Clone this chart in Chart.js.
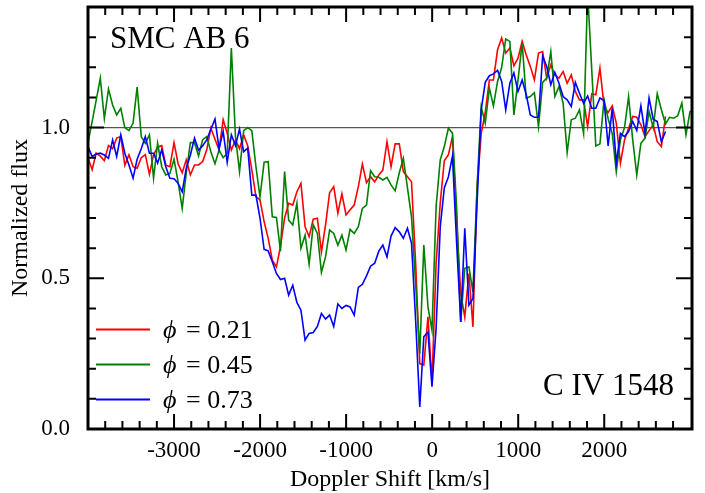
<!DOCTYPE html>
<html>
<head>
<meta charset="utf-8">
<script src="https://cdn.jsdelivr.net/npm/chart.js@4.4.1/dist/chart.umd.min.js"></script>
<style>
  html, body { margin: 0; padding: 0; background: #fff; }
  canvas { display: block; }
</style>
</head>
<body>
<canvas id="spectrum" width="705" height="493"></canvas>
<script>
// Doppler shift of each spectral bin [km/s]
const velocity = [
  -4000, -3952, -3905, -3857, -3810, -3762, -3714, -3667, -3619, -3572,
  -3524, -3476, -3429, -3381, -3334, -3286, -3238, -3191, -3143, -3096,
  -3048, -3000, -2953, -2905, -2858, -2810, -2762, -2715, -2667, -2620,
  -2572, -2524, -2477, -2429, -2382, -2334, -2286, -2239, -2191, -2144,
  -2096, -2048, -2001, -1953, -1906, -1858, -1810, -1763, -1715, -1668,
  -1620, -1572, -1525, -1477, -1430, -1382, -1334, -1287, -1239, -1192,
  -1144, -1096, -1049, -1001, -954, -906, -858, -811, -763, -716,
  -668, -620, -573, -525, -478, -430, -382, -335, -287, -240,
  -192, -144, -97, -49, -2, 46, 94, 141, 189, 236,
  284, 332, 379, 427, 474, 522, 570, 617, 665, 712,
  760, 808, 855, 903, 950, 998, 1046, 1093, 1141, 1188,
  1236, 1284, 1331, 1379, 1426, 1474, 1522, 1569, 1617, 1664,
  1712, 1760, 1807, 1855, 1902, 1950, 1998, 2045, 2093, 2140,
  2188, 2236, 2283, 2331, 2378, 2426, 2474, 2521, 2569, 2616,
  2664, 2712, 2759, 2807, 2854, 2902, 2950, 2997, 3045
];

// normalized flux, phase 0.21
const fluxPhase021 = [
  0.90, 0.86, 0.915, 0.905, 0.89, 0.94, 0.93, 0.965, 0.97, 0.875,
  0.91, 0.87, 0.865, 0.90, 0.91, 0.845, 0.91, 0.935, 0.94, 0.875,
  0.87, 0.95, 0.88, 0.85, 0.893, 0.843, 0.876, 0.876, 0.887, 0.926,
  0.998, 0.961, 0.926, 1.026, 0.981, 0.926, 0.959, 0.93, 0.976, 0.94,
  0.86, 0.771, 0.76, 0.688, 0.633, 0.56, 0.538, 0.605, 0.70, 0.749,
  0.743, 0.787, 0.815, 0.671, 0.638, 0.696, 0.699, 0.588, 0.677, 0.784,
  0.804, 0.716, 0.78, 0.71, 0.727, 0.743, 0.804, 0.879, 0.817, 0.837,
  0.82, 0.843, 0.859, 0.953, 0.87, 0.946, 0.946, 0.854, 0.837, 0.82,
  0.55, 0.217, 0.212, 0.372, 0.156, 0.55, 0.75, 0.89, 0.91, 0.97,
  0.693, 0.45, 0.372, 0.516, 0.339, 0.80, 0.98, 1.05, 1.158, 1.158,
  1.258, 1.297, 1.247, 1.264, 1.205, 1.23, 1.286, 1.241, 1.203, 1.158,
  1.247, 1.252, 1.164, 1.208, 1.175, 1.164, 1.186, 1.147, 1.175, 1.12,
  1.092, 1.092, 1.003, 1.112, 1.109, 1.197, 1.07, 1.05, 1.072, 1.015,
  0.882, 0.959, 0.998, 1.037, 1.034, 1.009, 0.97, 0.99, 1.009, 0.953,
  0.937, 1.037
];

// normalized flux, phase 0.45
const fluxPhase045 = [
  0.95, 1.02, 1.09, 1.164, 1.03, 1.128, 1.075, 1.042, 1.064, 1.0,
  0.99, 1.015, 1.134, 0.97, 0.948, 0.976, 0.832, 0.948, 0.87, 0.843,
  0.848, 0.895, 0.82, 0.732, 0.85, 0.95, 0.95, 0.906, 0.96, 0.97,
  0.92, 0.88, 0.925, 0.90, 0.915, 1.264, 0.97, 0.854, 0.99, 1.0,
  0.99, 0.87, 0.77, 0.885, 0.887, 0.704, 0.702, 0.59, 0.854, 0.693,
  0.677, 0.749, 0.60, 0.643, 0.547, 0.677, 0.649, 0.52, 0.571, 0.66,
  0.649, 0.61, 0.643, 0.594, 0.662, 0.649, 0.671, 0.732, 0.743, 0.857,
  0.837, 0.835, 0.826, 0.835, 0.81, 0.79, 0.85, 0.898, 0.80, 0.704,
  0.48, 0.25, 0.61, 0.405, 0.328, 0.738, 0.893, 0.937, 0.998, 0.981,
  0.738, 0.355, 0.533, 0.538, 0.455, 0.804, 1.068, 1.015, 1.131, 1.072,
  1.153, 1.20, 1.294, 1.286, 1.042, 1.158, 1.28, 1.098, 1.103, 1.116,
  1.003, 1.15, 1.164, 1.252, 1.103, 1.136, 1.081, 0.917, 1.026, 1.031,
  1.059, 0.981, 1.45, 1.19, 0.939, 0.946, 1.092, 1.03, 0.98, 0.854,
  0.96, 1.0, 1.103, 0.959, 0.843, 0.948, 0.965, 1.053, 1.0, 1.112,
  1.059, 1.012, 1.034, 1.031, 1.039, 1.081, 0.976, 1.053, 1.06
];

// normalized flux, phase 0.73
const fluxPhase073 = [
  0.937, 0.904, 0.912, 0.915, 0.909, 0.898, 0.959, 0.904, 0.976, 0.915,
  0.876, 0.832, 0.895, 0.93, 0.97, 0.915, 0.915, 0.882, 0.926, 0.87,
  0.832, 0.83, 0.815, 0.787, 0.865, 0.909, 0.965, 0.925, 0.94, 0.959,
  0.995, 1.028, 0.93, 0.987, 0.885, 0.976, 0.94, 0.995, 0.92, 0.932,
  0.776, 0.776, 0.70, 0.596, 0.591, 0.555, 0.516, 0.496, 0.50, 0.444,
  0.477, 0.42, 0.394, 0.295, 0.317, 0.32, 0.34, 0.383, 0.365, 0.378,
  0.34, 0.415, 0.40, 0.41, 0.405, 0.378, 0.47, 0.48, 0.508, 0.54,
  0.55, 0.59, 0.61, 0.571, 0.64, 0.668, 0.654, 0.633, 0.666, 0.616,
  0.361, 0.073, 0.306, 0.322, 0.14, 0.334, 0.671, 0.80, 0.837, 0.905,
  0.62, 0.355, 0.666, 0.411, 0.433, 0.75, 1.059, 1.15, 1.172, 1.178,
  1.19, 1.153, 1.059, 1.147, 1.181, 1.12, 1.158, 1.11, 1.042, 1.034,
  1.034, 1.238, 1.203, 1.142, 1.183, 1.147, 1.103, 1.092, 1.07, 1.15,
  1.114, 1.08, 1.105, 1.064, 1.064, 1.098, 1.09, 0.939, 1.064, 0.882,
  0.981, 0.97, 0.987, 1.02, 0.99, 1.072, 0.981, 1.098, 1.028, 1.02,
  0.953, 0.987
];

const phases = ["0.21", "0.45", "0.73"];
const xTickValues = [-3000, -2000, -1000, 0, 1000, 2000];
const yTickValues = [0.0, 0.5, 1.0];
const xRange = [-4000, 3020];
const yRange = [0, 1.4];
const continuumLevel = 1.0;

const SERIF = "'Liberation Serif', 'Times New Roman', serif";
const colors = ["#ff0000", "#008000", "#0000ff"];

function toPoints(flux) {
  return flux.map((f, i) => ({ x: velocity[i], y: f }));
}

// frame, inward ticks on all four sides, labels and legend
const decorations = {
  id: "decorations",
  afterDraw(chart) {
    const ctx = chart.ctx;
    const a = chart.chartArea;
    const sx = chart.scales.x;
    const sy = chart.scales.y;
    ctx.save();
    ctx.strokeStyle = "#000";
    ctx.lineWidth = 2;
    ctx.beginPath();
    for (let k = -20; k <= 16; k++) {
      const px = sx.getPixelForValue(k * 200);
      if (px < a.left + 3 || px > a.right - 3) continue;
      const len = k % 5 === 0 ? 15 : 8;
      ctx.moveTo(px, a.bottom);
      ctx.lineTo(px, a.bottom - len);
      ctx.moveTo(px, a.top);
      ctx.lineTo(px, a.top + len);
    }
    for (let k = 0; k <= 14; k++) {
      const py = sy.getPixelForValue(k / 10);
      if (py < a.top + 3 || py > a.bottom - 3) continue;
      const len = k % 5 === 0 ? 16 : 8;
      ctx.moveTo(a.left, py);
      ctx.lineTo(a.left + len, py);
      ctx.moveTo(a.right, py);
      ctx.lineTo(a.right - len, py);
    }
    ctx.stroke();

    ctx.lineWidth = 3;
    ctx.strokeRect(a.left, a.top, a.right - a.left, a.bottom - a.top);

    ctx.fillStyle = "#000";
    ctx.textBaseline = "alphabetic";
    ctx.font = "31px " + SERIF;
    ctx.textAlign = "left";
    ctx.fillText("SMC AB 6", 110, 48);
    ctx.textAlign = "right";
    ctx.fillText("C IV 1548", 674, 395);

    // legend
    const rowY = [329.5, 364.5, 399.5];
    phases.forEach((p, i) => {
      const y = rowY[i];
      ctx.strokeStyle = colors[i];
      ctx.lineWidth = 2;
      ctx.beginPath();
      ctx.moveTo(96, y);
      ctx.lineTo(150, y);
      ctx.stroke();
      ctx.fillStyle = "#000";
      ctx.textAlign = "left";
      ctx.font = "italic 26px " + SERIF;
      ctx.fillText("\u03d5", 163, y + 8);
      ctx.font = "26px " + SERIF;
      ctx.fillText("= " + p, 186, y + 8);
    });
    ctx.restore();
  }
};

new Chart(document.getElementById("spectrum"), {
  type: "line",
  data: {
    datasets: [
      {
        label: "phi = 0.73",
        data: toPoints(fluxPhase073),
        borderColor: colors[2],
        borderWidth: 1.6,
        order: 1
      },
      {
        label: "phi = 0.45",
        data: toPoints(fluxPhase045),
        borderColor: colors[1],
        borderWidth: 1.6,
        order: 2
      },
      {
        label: "phi = 0.21",
        data: toPoints(fluxPhase021),
        borderColor: colors[0],
        borderWidth: 1.6,
        order: 3
      },
      {
        label: "continuum",
        data: [
          { x: xRange[0], y: continuumLevel },
          { x: xRange[1], y: continuumLevel }
        ],
        borderColor: "rgb(85,85,85)",
        borderWidth: 1.2,
        order: 4
      }
    ]
  },
  options: {
    responsive: false,
    animation: false,
    events: [],
    elements: {
      point: { radius: 0 },
      line: { tension: 0, fill: false }
    },
    layout: { padding: { left: 0, right: 13, top: 7, bottom: 0 } },
    plugins: {
      legend: { display: false },
      tooltip: { enabled: false }
    },
    scales: {
      x: {
        type: "linear",
        min: xRange[0],
        max: xRange[1],
        grid: { display: false, drawTicks: false },
        border: { display: false },
        afterBuildTicks: (s) => { s.ticks = xTickValues.map((v) => ({ value: v })); },
        afterFit: (s) => {
          s.height = 64;
          s.paddingLeft = 0;
          s.paddingRight = 0;
        },
        ticks: {
          padding: 8,
          maxRotation: 0,
          autoSkip: false,
          color: "#000",
          font: { family: SERIF, size: 23 },
          callback: (v) => String(v)
        },
        title: {
          display: true,
          text: "Doppler Shift [km/s]",
          color: "#000",
          font: { family: SERIF, size: 24, lineHeight: 1 },
          padding: { top: 0, bottom: 1 }
        }
      },
      y: {
        type: "linear",
        min: yRange[0],
        max: yRange[1],
        grid: { display: false, drawTicks: false },
        border: { display: false },
        afterBuildTicks: (s) => { s.ticks = yTickValues.map((v) => ({ value: v })); },
        afterFit: (s) => {
          s.width = 88;
          s.paddingTop = 0;
          s.paddingBottom = 0;
        },
        ticks: {
          padding: 18,
          autoSkip: false,
          color: "#000",
          font: { family: SERIF, size: 23 },
          callback: (v) => Number(v).toFixed(1)
        },
        title: {
          display: true,
          text: "Normalized flux",
          color: "#000",
          font: { family: SERIF, size: 24, lineHeight: 1 },
          padding: { top: 9, bottom: 0 }
        }
      }
    }
  },
  plugins: [decorations]
});
</script>
</body>
</html>
